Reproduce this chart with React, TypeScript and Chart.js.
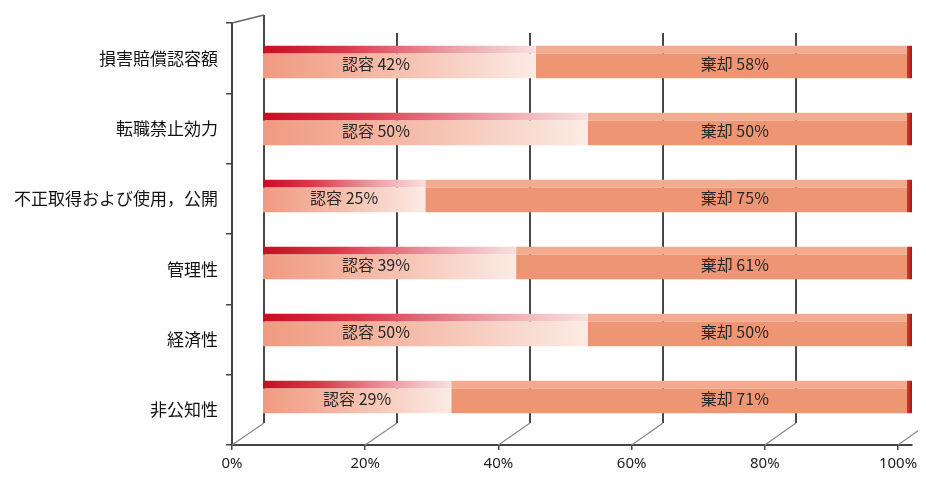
import React, { useEffect, useRef } from "react";
import { Chart, registerables } from "chart.js";

Chart.register(...registerables);

// ---- data ----
const categories = [
  "損害賠償認容額",
  "転職禁止効力",
  "不正取得および使用，公開",
  "管理性",
  "経済性",
  "非公知性",
];
const seriesNames = ["認容", "棄却"];
const approved = [42, 50, 25, 39, 50, 29];
const rejected = [58, 50, 75, 61, 50, 71];
const tickValues = [0, 20, 40, 60, 80, 100];

const TOP_STRIP = 8;
const CAP = 5;

function faceApproved(c: any) {
  const chart = c.chart;
  const xs = chart.scales && chart.scales.x;
  if (!xs || !chart.chartArea || c.type !== "data") return "#f2a68c";
  const x0 = xs.getPixelForValue(0);
  const x1 = xs.getPixelForValue(approved[c.dataIndex]);
  const g = chart.ctx.createLinearGradient(x0, 0, x1, 0);
  g.addColorStop(0, "#f09a80");
  g.addColorStop(0.5, "#f5bfae");
  g.addColorStop(1, "#fbebe4");
  return g;
}
function topApproved(c: any) {
  const chart = c.chart;
  const xs = chart.scales && chart.scales.x;
  if (!xs || !chart.chartArea || c.type !== "data") return "#d0202a";
  const x0 = xs.getPixelForValue(0);
  const x1 = xs.getPixelForValue(approved[c.dataIndex]);
  const g = chart.ctx.createLinearGradient(x0, 0, x1, 0);
  g.addColorStop(0, "#c80e22");
  g.addColorStop(0.3, "#d83a4a");
  g.addColorStop(0.7, "#eea0a8");
  g.addColorStop(1, "#f8e0de");
  return g;
}
function borderRejected(c: any) {
  const chart = c.chart;
  const xs = chart.scales && chart.scales.x;
  if (!xs || !chart.chartArea || c.type !== "data") return "#f3aa8e";
  const a = approved[c.dataIndex];
  const x0 = xs.getPixelForValue(a);
  const x1 = xs.getPixelForValue(a + rejected[c.dataIndex]);
  const w = Math.max(x1 - x0, 10);
  const g = chart.ctx.createLinearGradient(x0, 0, x1, 0);
  g.addColorStop(0, "#f3ab90");
  g.addColorStop((w - CAP - 0.5) / w, "#f3ab90");
  g.addColorStop((w - CAP) / w, "#dc3a2c");
  g.addColorStop(1, "#a81616");
  return g;
}

const frame3d = {
  id: "frame3d",
  beforeDatasetsDraw(chart: any) {
    const { ctx, chartArea: a, scales } = chart;
    const xg = scales.xg;
    const xf = scales.xf;
    const backBottom = a.bottom - 22;
    ctx.save();
    tickValues.forEach((v) => {
      const bx = xg.getPixelForValue(v);
      const fx = xf.getPixelForValue(v);
      ctx.strokeStyle = "#333";
      ctx.lineWidth = 1.8;
      ctx.beginPath();
      ctx.moveTo(bx, v === 0 ? a.top - 8 : a.top + 10);
      ctx.lineTo(bx, backBottom);
      ctx.stroke();
      ctx.strokeStyle = "#888";
      ctx.lineWidth = 1.2;
      ctx.beginPath();
      ctx.moveTo(bx, backBottom);
      ctx.lineTo(fx, a.bottom);
      ctx.stroke();
    });
    ctx.strokeStyle = "#666";
    ctx.lineWidth = 1.4;
    ctx.beginPath();
    ctx.moveTo(a.left, a.top);
    ctx.lineTo(xg.getPixelForValue(0), a.top - 8);
    ctx.stroke();
    ctx.restore();
  },
};

// label anchors (in bar-scale percent units): approved labels sit near the left,
// rejected labels share a common anchor, both clamped to their segment
const LABEL_ANCHOR = [17.4, 72.7];

const barLabels = {
  id: "barLabels",
  afterDatasetsDraw(chart: any) {
    const { ctx } = chart;
    const xs = chart.scales.x;
    ctx.save();
    ctx.font = '16px "Noto Sans CJK JP"';
    ctx.fillStyle = "#262626";
    ctx.textAlign = "center";
    ctx.textBaseline = "middle";
    const sets = [approved, rejected];
    chart.data.datasets.forEach((ds: any, di: number) => {
      const meta = chart.getDatasetMeta(di);
      meta.data.forEach((el: any, i: number) => {
        const { x, base, y } = el.getProps(["x", "base", "y"], true);
        const center = (x + base) / 2;
        const anchor = xs.getPixelForValue(LABEL_ANCHOR[di]);
        const cx = di === 0 ? Math.min(center, anchor) : Math.max(base, Math.min(anchor, x));
        ctx.fillText(`${seriesNames[di]} ${sets[di][i]}%`, cx, y + 2);
      });
    });
    ctx.restore();
  },
};

export default function App() {
  const ref = useRef<HTMLCanvasElement | null>(null);
  useEffect(() => {
    if (!ref.current) return;
    const chart = new Chart(ref.current, {
      type: "bar",
      data: {
        labels: categories,
        datasets: [
          {
            label: seriesNames[0],
            data: approved.map((v, i) => ({ x: v, y: i })),
            xAxisID: "x",
            yAxisID: "yb",
            backgroundColor: faceApproved,
            borderColor: topApproved,
            borderWidth: { top: TOP_STRIP, right: 0, bottom: 0, left: 0 },
            borderSkipped: false,
            inflateAmount: 0,
            barThickness: 33,
          },
          {
            label: seriesNames[1],
            data: rejected.map((v, i) => ({ x: v, y: i })),
            xAxisID: "x",
            yAxisID: "yb",
            backgroundColor: "#ee9674",
            borderColor: borderRejected,
            borderWidth: { top: TOP_STRIP, right: CAP, bottom: 0, left: 0 },
            borderSkipped: false,
            inflateAmount: 0,
            barThickness: 33,
          },
        ],
      } as any,
      options: {
        animation: false,
        responsive: true,
        maintainAspectRatio: false,
        indexAxis: "y",
        layout: { padding: { left: 0, right: 6, top: 15, bottom: 0 } },
        plugins: { legend: { display: false }, tooltip: { enabled: false } },
        scales: {
          x: {
            type: "linear",
            display: false,
            stacked: true,
            offset: false,
            bounds: "data",
            min: -4.777,
            max: 100,
          },
          xg: {
            type: "linear",
            display: false,
            position: "bottom",
            offset: false,
            bounds: "data",
            min: -4.812,
            max: 97.44,
          },
          yb: {
            type: "linear",
            display: false,
            stacked: true,
            reverse: true,
            offset: false,
            position: "left",
            bounds: "data",
            min: -0.58,
            max: 5.715,
          },
          y: {
            type: "category",
            labels: categories,
            position: "left",
            offset: true,
            grid: {
              display: true,
              drawOnChartArea: false,
              offset: true,
              tickLength: 6,
              color: "#444",
              lineWidth: 1.5,
            },
            border: { display: true, color: "#444", width: 2 },
            ticks: {
              font: { family: '"Noto Sans CJK JP"', size: 17 },
              color: "#111",
              padding: 8,
            },
            afterFit: (s: any) => {
              s.width = 224;
              s.paddingTop = 0;
              s.paddingBottom = 0;
            },
          },
          xf: {
            type: "linear",
            position: "bottom",
            offset: false,
            bounds: "data",
            min: 0,
            max: 102.1,
            grid: { drawOnChartArea: false, tickLength: 5, color: "#444", lineWidth: 1.5 },
            border: { display: true, color: "#444", width: 2 },
            afterBuildTicks: (s: any) => {
              s.ticks = tickValues.map((v) => ({ value: v }));
            },
            ticks: {
              callback: (v: any) => v + "%",
              font: { family: '"Noto Sans"', size: 15 },
              color: "#222",
              padding: 5,
              maxRotation: 0,
              autoSkip: false,
            },
            afterFit: (s: any) => {
              s.height = 27;
              s.paddingLeft = 0;
              s.paddingRight = 0;
            },
          },
        },
      } as any,
      plugins: [frame3d, barLabels],
    });
    return () => chart.destroy();
  }, []);
  return (
    <div style={{ width: 910, height: 464, position: "relative" }}>
      <canvas ref={ref} />
    </div>
  );
}
